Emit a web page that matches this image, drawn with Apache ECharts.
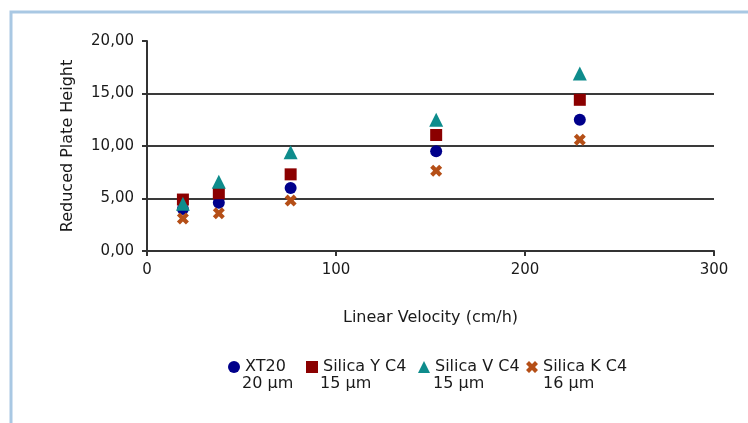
<!DOCTYPE html>
<html>
<head>
<meta charset="utf-8">
<script src="https://cdn.jsdelivr.net/npm/echarts@6/dist/echarts.min.js"></script>
<style>
html,body{margin:0;padding:0;background:#fff;}
#chart{width:748px;height:423px;}
</style>
</head>
<body>
<div id="chart"></div>
<script>
// ---- data ----
var velocity = [19, 38, 76, 153, 229];
var seriesNames = ['XT20', 'Silica Y C4', 'Silica V C4', 'Silica K C4'];
var particleSizes = ['20 µm', '15 µm', '15 µm', '16 µm'];
var xt20 = [4.0, 4.6, 6.0, 9.5, 12.5];
var silicaY = [4.9, 5.5, 7.3, 11.05, 14.4];
var silicaV = [4.5, 6.6, 9.4, 12.5, 16.9];
var silicaK = [3.1, 3.6, 4.8, 7.65, 10.6];
var xTicks = [0, 100, 200, 300];
var yTicks = [0, 5, 10, 15, 20];

// ---- style ----
var FONT = 'DejaVu Sans';
var colors = ['#00008b', '#8b0000', '#0e8c8c', '#b54f17'];
var xPath = 'path://M0,3 L3,0 L6,3 L9,0 L12,3 L9,6 L12,9 L9,12 L6,9 L3,12 L0,9 L3,6 Z';
var symbols = ['circle', 'rect', 'triangle', xPath];
var sizes = [12, 12, 14, 12];
var allValues = [xt20, silicaY, silicaV, silicaK];
var legendLeft = [223, 301, 413, 521];
var line2X = [242, 320, 433, 543];

function pairs(ys) { return velocity.map(function (v, i) { return [v, ys[i]]; }); }

var series = seriesNames.map(function (n, k) {
  return {
    name: n, type: 'scatter', data: pairs(allValues[k]),
    symbol: symbols[k], symbolSize: sizes[k],
    itemStyle: { color: colors[k], opacity: 1 },
    emphasis: { disabled: true }, z: 3 + k
  };
});

var legends = seriesNames.map(function (n, k) {
  return {
    data: [{ name: n, icon: symbols[k] }],
    left: legendLeft[k], top: 354,
    itemWidth: 12, itemHeight: 12,
    textStyle: { fontFamily: FONT, fontSize: 16, color: '#1a1a1a' },
    selectedMode: false
  };
});

var graphics = [{
  type: 'rect', shape: { x: 11, y: 12, width: 760, height: 440 },
  style: { fill: 'none', stroke: '#a9c8e3', lineWidth: 3 }, silent: true
}];
particleSizes.forEach(function (s, k) {
  graphics.push({
    type: 'text', x: line2X[k], y: 384,
    style: { text: s, font: '16px "' + FONT + '"', fill: '#1a1a1a', textVerticalAlign: 'middle', textAlign: 'left' }
  });
});

var chart = echarts.init(document.getElementById('chart'));
chart.setOption({
  animation: false,
  backgroundColor: '#ffffff',
  grid: { left: 147, right: 34, top: 41, bottom: 172, containLabel: false },
  legend: legends,
  graphic: graphics,
  xAxis: {
    type: 'value', min: xTicks[0], max: xTicks[xTicks.length - 1], interval: 100,
    name: 'Linear Velocity (cm/h)', nameLocation: 'middle', nameGap: 59,
    nameTextStyle: { fontFamily: FONT, fontSize: 16, color: '#1a1a1a' },
    axisLine: { show: true, lineStyle: { color: '#333', width: 2 } },
    axisTick: { show: true, length: 5, lineStyle: { color: '#333', width: 2 } },
    axisLabel: { fontFamily: FONT, fontSize: 15, color: '#1a1a1a', margin: 12 },
    splitLine: { show: false }
  },
  yAxis: {
    type: 'value', min: yTicks[0], max: yTicks[yTicks.length - 1], interval: 5,
    name: 'Reduced Plate Height', nameLocation: 'middle', nameGap: 71, nameRotate: 90,
    nameTextStyle: { fontFamily: FONT, fontSize: 16, color: '#1a1a1a' },
    axisLine: { show: true, lineStyle: { color: '#333', width: 2 } },
    axisTick: { show: true, length: 5, lineStyle: { color: '#333', width: 2 } },
    axisLabel: {
      fontFamily: FONT, fontSize: 15, color: '#1a1a1a', margin: 13,
      formatter: function (v) { return v.toFixed(2).replace('.', ','); }
    },
    splitLine: { show: true, showMinLine: false, showMaxLine: false, lineStyle: { color: '#3a3a3a', width: 2 } }
  },
  series: series
});
</script>
</body>
</html>
